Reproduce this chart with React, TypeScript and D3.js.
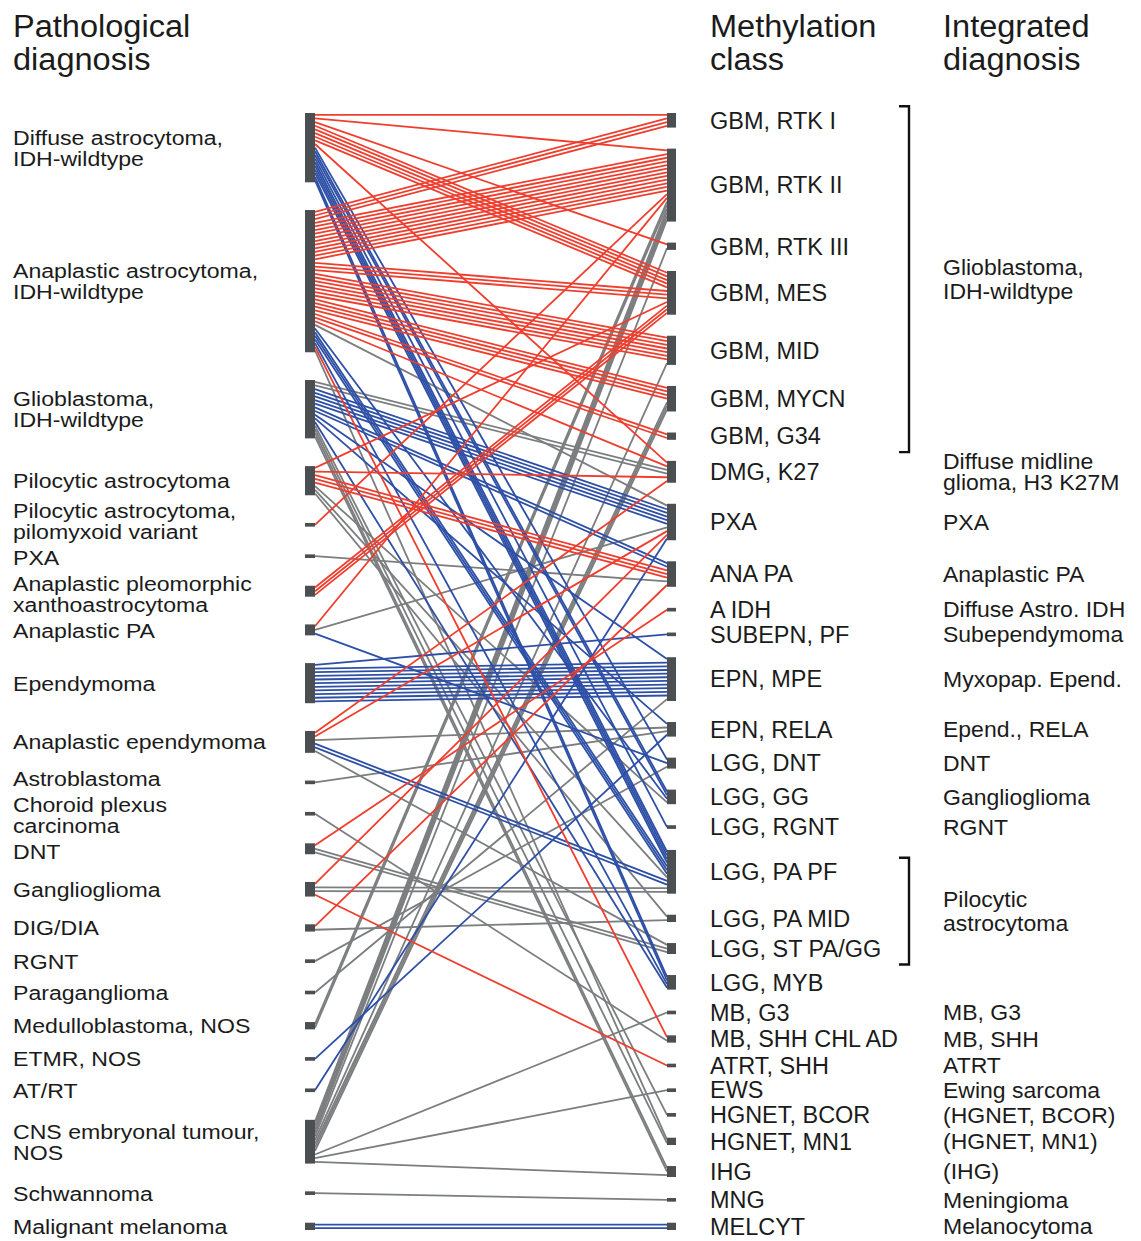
import React from 'react';
import * as d3 from 'd3';

// left column: pathological diagnosis ("|" = line break)
const pathological = [
  'Diffuse astrocytoma,|IDH-wildtype',
  'Anaplastic astrocytoma,|IDH-wildtype',
  'Glioblastoma,|IDH-wildtype',
  'Pilocytic astrocytoma',
  'Pilocytic astrocytoma,|pilomyxoid variant',
  'PXA',
  'Anaplastic pleomorphic|xanthoastrocytoma',
  'Anaplastic PA',
  'Ependymoma',
  'Anaplastic ependymoma',
  'Astroblastoma',
  'Choroid plexus|carcinoma',
  'DNT',
  'Ganglioglioma',
  'DIG/DIA',
  'RGNT',
  'Paraganglioma',
  'Medulloblastoma, NOS',
  'ETMR, NOS',
  'AT/RT',
  'CNS embryonal tumour,|NOS',
  'Schwannoma',
  'Malignant melanoma',
];
const pathKeys = [
  'DA', 'AA', 'GBM', 'PA', 'PMA', 'PXA', 'APXA', 'APA', 'EPN', 'AEPN', 'ASB', 'CPC',
  'DNT', 'GG', 'DIG', 'RGNT', 'PGL', 'MB', 'ETMR', 'ATRT', 'CNSE', 'SCHW', 'MM',
];

// middle column: methylation class
const methylation = [
  'GBM, RTK I', 'GBM, RTK II', 'GBM, RTK III', 'GBM, MES', 'GBM, MID', 'GBM, MYCN', 'GBM, G34',
  'DMG, K27', 'PXA', 'ANA PA', 'A IDH', 'SUBEPN, PF', 'EPN, MPE', 'EPN, RELA',
  'LGG, DNT', 'LGG, GG', 'LGG, RGNT', 'LGG, PA PF', 'LGG, PA MID', 'LGG, ST PA/GG', 'LGG, MYB',
  'MB, G3', 'MB, SHH CHL AD', 'ATRT, SHH', 'EWS', 'HGNET, BCOR', 'HGNET, MN1', 'IHG', 'MNG', 'MELCYT',
];

// right column: integrated diagnosis, per methylation class
const integrated: [string, string][] = [
  ['DMG, K27', 'Diffuse midline|glioma, H3 K27M'],
  ['PXA', 'PXA'],
  ['ANA PA', 'Anaplastic PA'],
  ['A IDH', 'Diffuse Astro. IDH'],
  ['SUBEPN, PF', 'Subependymoma'],
  ['EPN, MPE', 'Myxopap. Epend.'],
  ['EPN, RELA', 'Epend., RELA'],
  ['LGG, DNT', 'DNT'],
  ['LGG, GG', 'Ganglioglioma'],
  ['LGG, RGNT', 'RGNT'],
  ['MB, G3', 'MB, G3'],
  ['MB, SHH CHL AD', 'MB, SHH'],
  ['ATRT, SHH', 'ATRT'],
  ['EWS', 'Ewing sarcoma'],
  ['HGNET, BCOR', '(HGNET, BCOR)'],
  ['HGNET, MN1', '(HGNET, MN1)'],
  ['IHG', '(IHG)'],
  ['MNG', 'Meningioma'],
  ['MELCYT', 'Melanocytoma'],
];
// bracketed groups: first class, last class, label
const groups: [string, string, string][] = [
  ['GBM, RTK I', 'GBM, G34', 'Glioblastoma,|IDH-wildtype'],
  ['LGG, PA PF', 'LGG, ST PA/GG', 'Pilocytic|astrocytoma'],
];

// cases: source, methylation class, colour (r = red, b = blue, g = grey), number of cases
const links: [string, string, string, number][] = [
  ['DA', 'GBM, RTK I', 'r', 1], ['DA', 'GBM, RTK II', 'r', 1], ['DA', 'GBM, RTK III', 'r', 1],
  ['DA', 'GBM, MES', 'r', 5], ['DA', 'DMG, K27', 'r', 1], ['DA', 'LGG, DNT', 'b', 1],
  ['DA', 'LGG, GG', 'b', 2], ['DA', 'LGG, RGNT', 'b', 1], ['DA', 'LGG, PA PF', 'b', 4],
  ['DA', 'LGG, MYB', 'b', 2],
  ['AA', 'GBM, RTK I', 'r', 3], ['AA', 'GBM, RTK II', 'r', 11], ['AA', 'GBM, MES', 'r', 3],
  ['AA', 'GBM, MID', 'r', 7], ['AA', 'GBM, MYCN', 'r', 4], ['AA', 'GBM, G34', 'r', 2],
  ['AA', 'DMG, K27', 'r', 1], ['AA', 'PXA', 'g', 1], ['AA', 'LGG, GG', 'b', 1],
  ['AA', 'LGG, PA PF', 'b', 3], ['AA', 'LGG, MYB', 'b', 1], ['AA', 'MB, SHH CHL AD', 'r', 1],
  ['AA', 'HGNET, MN1', 'g', 1],
  ['GBM', 'DMG, K27', 'g', 2], ['GBM', 'PXA', 'b', 5], ['GBM', 'ANA PA', 'b', 2],
  ['GBM', 'EPN, MPE', 'b', 1], ['GBM', 'EPN, RELA', 'b', 1], ['GBM', 'LGG, MYB', 'b', 1],
  ['GBM', 'HGNET, BCOR', 'g', 1], ['GBM', 'HGNET, MN1', 'g', 1], ['GBM', 'IHG', 'g', 2],
  ['PA', 'GBM, MES', 'r', 1], ['PA', 'DMG, K27', 'r', 1], ['PA', 'ANA PA', 'r', 3],
  ['PA', 'LGG, GG', 'g', 1], ['PA', 'LGG, PA PF', 'g', 1], ['PA', 'LGG, PA MID', 'g', 1],
  ['PMA', 'GBM, RTK II', 'r', 1],
  ['PXA', 'ANA PA', 'g', 1],
  ['APXA', 'GBM, MES', 'r', 3],
  ['APA', 'GBM, RTK II', 'r', 1], ['APA', 'PXA', 'g', 1], ['APA', 'LGG, DNT', 'b', 1],
  ['EPN', 'SUBEPN, PF', 'b', 1], ['EPN', 'EPN, MPE', 'b', 10],
  ['AEPN', 'DMG, K27', 'r', 1], ['AEPN', 'PXA', 'r', 1], ['AEPN', 'EPN, RELA', 'g', 1],
  ['AEPN', 'LGG, PA PF', 'b', 2], ['AEPN', 'LGG, ST PA/GG', 'g', 1],
  ['ASB', 'EPN, RELA', 'g', 1],
  ['CPC', 'MB, SHH CHL AD', 'g', 1],
  ['DNT', 'A IDH', 'r', 1], ['DNT', 'LGG, ST PA/GG', 'g', 2],
  ['GG', 'PXA', 'r', 1], ['GG', 'LGG, PA PF', 'g', 2], ['GG', 'ATRT, SHH', 'r', 1],
  ['DIG', 'ANA PA', 'r', 1], ['DIG', 'LGG, PA MID', 'g', 1],
  ['RGNT', 'LGG, DNT', 'g', 1],
  ['PGL', 'EPN, MPE', 'g', 1],
  ['MB', 'GBM, RTK II', 'g', 2],
  ['ETMR', 'EPN, RELA', 'b', 1],
  ['ATRT', 'PXA', 'b', 1],
  ['CNSE', 'GBM, RTK II', 'g', 4], ['CNSE', 'GBM, RTK III', 'g', 1], ['CNSE', 'GBM, MID', 'g', 1],
  ['CNSE', 'GBM, MYCN', 'g', 3], ['CNSE', 'MB, G3', 'g', 1], ['CNSE', 'EWS', 'g', 1],
  ['CNSE', 'IHG', 'g', 1],
  ['SCHW', 'MNG', 'g', 1],
  ['MM', 'MELCYT', 'b', 2],
];

const colours: Record<string, string> = { r: '#ef3e2e', b: '#2d4fa6', g: '#7b7d7e' };

const font = '"Liberation Sans", Arial, Helvetica, sans-serif';

type Node = { key: string; n: number; y0: number; y1: number; used: number };

function layout(keys: string[], counts: Map<string, number>, top: number, bottom: number, unit: number) {
  const sumH = d3.sum(keys, k => (counts.get(k) || 0) * unit);
  const gap = (bottom - top - sumH) / (keys.length - 1);
  let y = top;
  const nodes = new Map<string, Node>();
  keys.forEach(k => {
    const n = counts.get(k) || 0;
    nodes.set(k, { key: k, n, y0: y, y1: y + n * unit, used: 0 });
    y += n * unit + gap;
  });
  return nodes;
}

// push neighbouring labels apart where their text blocks would collide
function relax(centres: number[], nLines: number[], size: number, lh: number) {
  const c = centres.slice();
  const half = nLines.map(n => ((n - 1) * lh + size * 1.2) / 2);
  for (let it = 0; it < 60; it++) {
    for (let i = 0; i < c.length - 1; i++) {
      const over = c[i] + half[i] + 1 - (c[i + 1] - half[i + 1]);
      if (over > 0) { c[i] -= over / 2; c[i + 1] += over / 2; }
    }
  }
  return c;
}

// multi-line label, vertically centred on y, stretched a little horizontally like the original
const Label = ({ x, y, text, size, lh, sx = 1 }: { x: number; y: number; text: string; size: number; lh: number; sx?: number }) => {
  const lines = text.split('|');
  return (
    <text transform={`translate(${x},0) scale(${sx},1)`} fontSize={size} fontFamily={font} fill="#1b1b1b">
      {lines.map((t, j) => (
        <tspan key={j} x={0} y={y + (j - (lines.length - 1) / 2) * lh} dy="0.36em">{t}</tspan>
      ))}
    </text>
  );
};

export default function App() {
  const width = 1141;
  const height = 1241;
  const top = 113;
  const bottom = 1230;
  const xL = 315;
  const xR = 667;

  const total = d3.sum(links, l => l[3]);
  const unit = d3.scaleLinear().domain([0, total]).range([0, 507]);
  const k = unit(1);

  const leftCounts = d3.rollup(links, v => d3.sum(v, l => l[3]), l => l[0]);
  const rightCounts = d3.rollup(links, v => d3.sum(v, l => l[3]), l => l[1]);
  const left = layout(pathKeys, leftCounts, top, bottom, k);
  const right = layout(methylation, rightCounts, top, bottom, k);

  const li = (key: string) => pathKeys.indexOf(key);
  const ri = (key: string) => methylation.indexOf(key);

  // slot offsets, ordered by the position of the other end
  const srcOff = new Map<number, number>();
  const tgtOff = new Map<number, number>();
  const idx = links.map((_, i) => i);
  idx.slice().sort((a, b) => li(links[a][0]) - li(links[b][0]) || ri(links[a][1]) - ri(links[b][1]))
    .forEach(i => { const nd = left.get(links[i][0])!; srcOff.set(i, nd.used); nd.used += links[i][3]; });
  idx.slice().sort((a, b) => ri(links[a][1]) - ri(links[b][1]) || li(links[a][0]) - li(links[b][0]))
    .forEach(i => { const nd = right.get(links[i][1])!; tgtOff.set(i, nd.used); nd.used += links[i][3]; });

  const lines: { c: string; y1: number; y2: number; id: string }[] = [];
  links.forEach((l, i) => {
    const s = left.get(l[0])!;
    const t = right.get(l[1])!;
    for (let j = 0; j < l[3]; j++) {
      lines.push({
        c: l[2],
        y1: s.y0 + (srcOff.get(i)! + j + 0.5) * k,
        y2: t.y0 + (tgtOff.get(i)! + j + 0.5) * k,
        id: `${i}-${j}`,
      });
    }
  });
  const order = ['g', 'b', 'r'];
  lines.sort((a, b) => order.indexOf(a.c) - order.indexOf(b.c));
  const line = d3.line<[number, number]>();

  const mid = (n: Node) => (n.y0 + n.y1) / 2;

  const leftLabelY = relax(
    pathKeys.map(key => mid(left.get(key)!)),
    pathological.map(t => t.split('|').length),
    21, 21,
  );

  return (
    <svg width={width} height={height} style={{ position: 'absolute', left: 0, top: 0, background: '#fff' }}>
      <Label x={13} y={42} text="Pathological|diagnosis" size={31} lh={33} sx={1.05} />
      <Label x={710} y={42} text="Methylation|class" size={31} lh={33} sx={1.05} />
      <Label x={943} y={42} text="Integrated|diagnosis" size={31} lh={33} sx={1.05} />

      {lines.map(d => (
        <path key={d.id} d={line([[xL, d.y1], [xR, d.y2]])!} stroke={colours[d.c]} strokeWidth={1.8} fill="none" />
      ))}

      {pathKeys.map(key => {
        const n = left.get(key)!;
        return <rect key={key} x={305} y={n.y0} width={xL - 305} height={Math.max(n.y1 - n.y0, 2.5)} fill="#4b4f52" />;
      })}
      {methylation.map(key => {
        const n = right.get(key)!;
        return <rect key={key} x={xR} y={n.y0} width={9} height={Math.max(n.y1 - n.y0, 2.5)} fill="#4b4f52" />;
      })}

      {pathKeys.map((key, i) => (
        <Label key={key} x={13} y={leftLabelY[i]} text={pathological[i]} size={21} lh={21} sx={1.1} />
      ))}
      {methylation.map(key => (
        <Label key={key} x={710} y={mid(right.get(key)!)} text={key} size={23} lh={21} sx={1.02} />
      ))}
      {integrated.map(([key, txt]) => (
        <Label key={key} x={943} y={mid(right.get(key)!)} text={txt} size={21.5} lh={21} sx={1.07} />
      ))}
      {groups.map(([a, b, txt]) => {
        const y0 = mid(right.get(a)!) - 14;
        const y1 = mid(right.get(b)!) + 16;
        return (
          <g key={txt}>
            <path d={`M899,${y0}H909V${y1}H899`} stroke="#111" strokeWidth={2.4} fill="none" />
            <Label x={943} y={(y0 + y1) / 2} text={txt} size={21.5} lh={24} sx={1.07} />
          </g>
        );
      })}
    </svg>
  );
}
